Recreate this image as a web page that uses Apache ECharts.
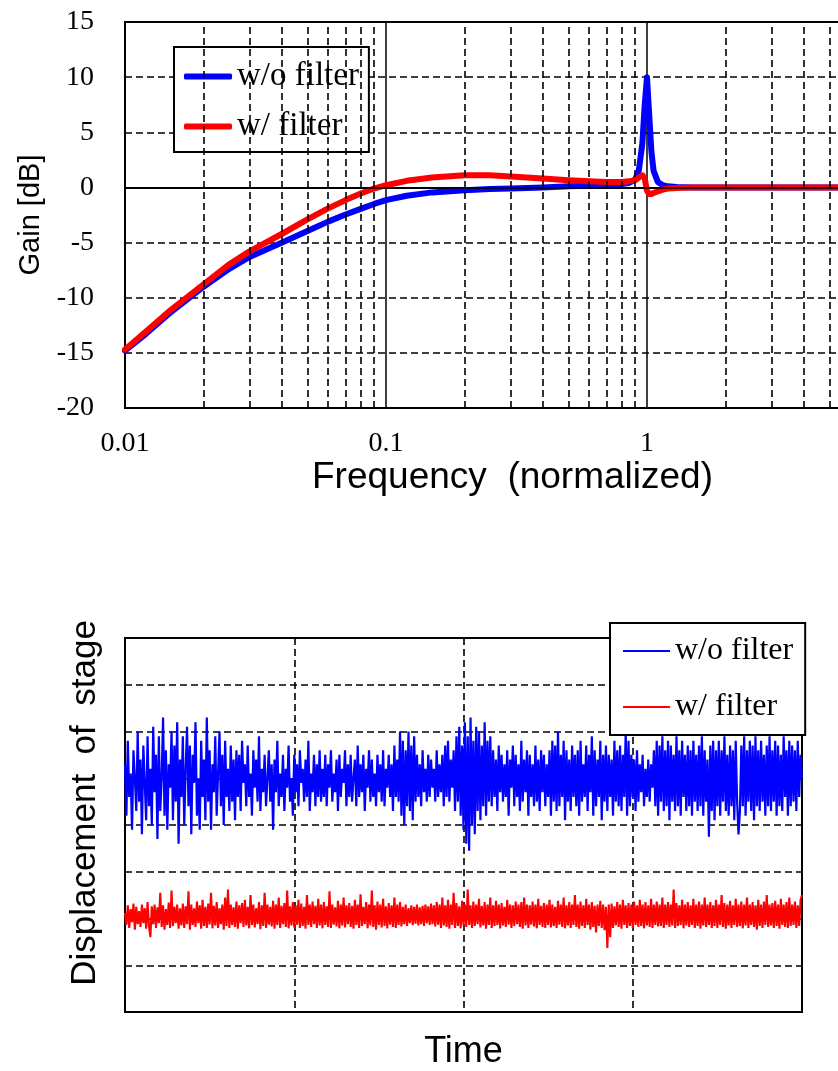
<!DOCTYPE html>
<html>
<head>
<meta charset="utf-8">
<script src="https://cdn.jsdelivr.net/npm/echarts@6/dist/echarts.min.js"></script>
<style>html,body{margin:0;padding:0;background:#fff;}#c{width:838px;height:1071px;}</style>
</head>
<body>
<div id="c"></div>
<script>
// ---------- Top chart: gain vs normalized frequency ----------
const freqs = [0.01, 0.012, 0.015, 0.02, 0.025, 0.03, 0.04, 0.05, 0.06, 0.07, 0.08, 0.09, 0.1, 0.12, 0.15, 0.2, 0.25, 0.3, 0.4, 0.5, 0.6, 0.7, 0.8, 0.85, 0.9, 0.93, 0.96, 0.98, 1.0, 1.02, 1.04, 1.06, 1.1, 1.15, 1.2, 1.3, 1.5, 2, 3, 5, 10];
const gainWithout = [-14.8, -13.3, -11.3, -9.0, -7.4, -6.3, -5.0, -3.95, -3.1, -2.45, -1.95, -1.5, -1.15, -0.75, -0.45, -0.25, -0.15, -0.1, 0.0, 0.1, 0.15, 0.25, 0.3, 0.4, 0.7, 1.5, 4.0, 7.5, 10.0, 6.5, 3.2, 1.5, 0.5, 0.2, 0.1, 0.05, 0, 0, 0, 0, 0];
const gainWith = [-14.7, -13.1, -11.1, -8.8, -7.0, -5.8, -4.2, -2.9, -1.9, -1.15, -0.55, -0.1, 0.2, 0.6, 0.9, 1.1, 1.1, 1.0, 0.8, 0.65, 0.55, 0.5, 0.5, 0.55, 0.65, 0.9, 1.1, 0.8, -0.3, -0.6, -0.6, -0.5, -0.35, -0.2, -0.1, -0.05, 0, 0, 0, 0, 0];
const minorFreqs = [0.02, 0.03, 0.04, 0.05, 0.06, 0.07, 0.08, 0.09, 0.2, 0.3, 0.4, 0.5, 0.6, 0.7, 0.8, 0.9, 2, 3, 4, 5, 6, 7, 8, 9];
const freqLabels = [0.01, 0.1, 1, 10];

// ---------- Bottom chart: displacement vs time (hand-read samples) ----------
const dispWithout = [
5.3,4.2,5.8,4.6,5.1,3.9,5.6,5.0,4.3,6.0,4.5,5.4,3.8,5.7,4.9,4.1,5.9,4.4,5.2,4.0,
6.1,4.7,5.5,3.7,5.9,4.3,5.0,6.3,4.2,5.6,3.9,5.3,4.8,6.0,4.1,5.7,4.5,6.2,3.6,5.4,
4.6,5.9,4.0,5.2,6.1,4.4,5.7,3.8,5.5,4.9,6.2,4.2,5.0,3.9,5.8,4.6,5.4,4.1,6.3,4.5,
5.6,3.9,5.3,4.7,5.9,4.2,5.1,6.0,4.4,5.5,4.0,5.8,4.6,5.2,4.3,5.7,4.5,5.4,4.1,5.6,
4.6,5.5,4.3,5.8,4.9,5.3,4.4,5.7,4.6,5.1,4.2,5.6,4.8,5.4,4.5,5.9,4.3,5.2,4.7,5.5,
4.4,5.0,5.6,4.5,5.3,3.9,5.4,4.7,5.8,4.4,5.1,4.6,5.5,4.3,5.2,4.8,5.7,4.5,5.0,4.2,
5.5,4.7,5.3,4.4,5.6,4.9,5.2,4.5,5.4,4.6,5.8,4.3,5.1,4.7,5.5,4.4,5.3,4.6,5.6,4.5,
5.2,4.6,5.5,4.4,5.3,4.8,5.6,4.5,5.1,4.7,5.4,4.3,5.5,4.6,5.2,4.9,5.6,4.4,5.3,4.6,
5.5,4.5,5.0,5.4,4.4,5.7,4.6,5.3,4.7,5.5,4.3,5.2,4.8,5.6,4.5,5.4,4.6,5.1,4.4,5.5,
4.7,5.3,4.5,5.6,4.4,5.2,4.8,5.5,4.6,5.3,4.3,5.7,4.6,5.4,4.5,6.0,4.2,5.8,4.0,5.6,
4.4,6.0,4.3,5.7,4.1,5.9,4.5,5.5,4.6,5.3,4.4,5.6,4.7,5.2,4.5,5.5,4.6,5.4,4.8,5.2,
4.5,5.6,4.6,5.3,4.7,5.5,4.4,5.7,4.6,5.8,4.5,5.4,4.8,5.6,4.3,5.9,4.5,6.1,4.2,5.7,
3.9,6.2,3.6,5.9,3.45,6.3,4.0,5.8,3.8,6.1,4.3,6.0,4.1,5.7,4.4,6.2,4.2,5.8,4.5,5.9,
4.4,5.6,4.6,5.4,4.3,5.7,4.7,5.5,4.5,5.3,4.6,5.6,4.2,5.4,4.8,5.7,4.4,5.5,4.6,5.3,
4.3,5.8,4.5,5.4,4.7,5.6,4.2,5.5,4.6,5.3,4.4,5.7,4.5,5.4,4.3,5.6,4.7,5.5,4.4,5.3,
4.6,5.6,4.2,5.8,4.5,5.7,4.3,6.0,4.4,5.5,4.6,5.8,4.1,5.6,4.5,5.4,4.3,5.7,4.6,5.5,
4.4,5.6,4.2,5.8,4.5,5.3,4.6,5.7,4.3,5.5,4.7,5.9,4.2,5.6,4.4,5.4,4.6,5.8,4.1,5.5,
4.5,5.7,4.3,5.5,4.6,5.4,4.2,5.8,4.5,5.6,4.4,5.7,4.3,5.5,4.6,6.0,4.2,5.8,4.4,5.5,
4.6,5.4,4.3,5.6,4.5,5.3,4.7,5.5,4.4,5.2,4.6,5.4,4.5,5.3,4.8,5.6,4.4,5.8,4.2,5.7,
4.5,5.9,4.3,5.6,4.4,5.8,4.1,5.7,4.5,5.5,4.3,5.9,4.4,5.6,4.2,5.8,4.6,5.5,4.3,5.7,
4.4,5.6,4.2,5.8,4.5,5.5,4.3,5.7,4.4,5.9,4.2,5.6,4.5,5.4,3.75,5.7,4.3,5.8,4.1,5.6,
4.4,5.8,4.2,5.6,4.5,5.9,4.3,5.5,4.2,5.7,4.4,5.6,4.1,5.8,4.5,3.8,4.3,5.7,4.4,5.9,
4.2,5.6,4.5,5.8,4.3,5.7,4.1,5.9,4.4,5.6,4.3,5.8,4.5,5.5,4.2,5.7,4.4,5.9,4.3,5.6,
4.5,5.8,4.2,5.7,4.4,5.5,4.3,5.9,4.6,5.6,4.2,5.8,4.4,5.7,4.5,5.6,4.3,5.8,4.6,5.5,
5.0];
const dispWith = [
2.12,1.86,2.28,1.8,2.2,1.92,2.32,1.76,2.25,1.88,2.16,1.82,2.3,1.9,2.22,1.78,2.35,1.84,1.6,2.26,
1.88,2.3,1.8,2.24,1.9,2.55,1.82,2.28,1.76,2.2,1.86,2.34,1.8,2.6,1.84,2.25,1.9,2.3,1.78,2.22,
1.85,2.32,1.8,2.26,1.88,2.58,1.76,2.3,1.86,2.22,1.82,2.36,1.9,2.28,1.78,2.4,1.84,2.25,1.8,2.32,
1.87,2.55,1.79,2.27,1.85,2.35,1.8,2.22,1.88,2.3,1.76,2.45,1.84,2.62,1.8,2.3,1.86,2.24,1.82,2.36,
1.78,2.28,1.9,2.33,1.82,2.4,1.85,2.25,1.79,2.5,1.86,2.3,1.81,2.22,1.88,2.35,1.77,2.28,1.84,2.55,
1.8,2.3,1.87,2.25,1.83,2.38,1.78,2.3,1.86,2.45,1.8,2.27,1.88,2.33,1.82,2.6,1.79,2.26,1.85,2.35,
1.81,2.28,1.87,2.4,1.8,2.32,1.84,2.25,1.78,2.5,1.86,2.3,1.82,2.36,1.88,2.27,1.8,2.42,1.85,2.3,
1.79,2.35,1.86,2.26,1.82,2.58,1.8,2.3,1.87,2.24,1.83,2.38,1.79,2.3,1.85,2.45,1.81,2.28,1.88,2.33,
1.82,2.27,1.78,2.4,1.86,2.3,1.8,2.52,1.84,2.25,1.88,2.35,1.79,2.3,1.85,2.6,1.82,2.28,1.76,2.36,
1.86,2.3,1.81,2.42,1.84,2.26,1.79,2.33,1.87,2.28,1.82,2.45,1.8,2.3,1.86,2.35,1.83,2.25,1.88,2.3,
1.84,2.22,1.9,2.28,1.86,2.25,1.89,2.3,1.85,2.24,1.88,2.27,1.84,2.3,1.9,2.26,1.86,2.32,1.88,2.28,
1.83,2.35,1.87,2.3,1.8,2.45,1.85,2.28,1.82,2.4,1.78,2.3,1.86,2.55,1.8,2.33,1.84,2.26,1.79,2.38,
1.85,2.3,1.82,2.62,1.86,2.28,1.8,2.36,1.84,2.3,1.88,2.42,1.81,2.27,1.85,2.35,1.78,2.3,1.86,2.45,
1.8,2.28,1.84,2.38,1.86,2.3,1.79,2.33,1.85,2.25,1.82,2.4,1.87,2.3,1.8,2.28,1.84,2.36,1.88,2.3,
1.82,2.35,1.78,2.45,1.85,2.3,1.8,2.28,1.87,2.36,1.83,2.3,1.79,2.42,1.86,2.27,1.82,2.33,1.8,2.3,
1.86,2.4,1.81,2.3,1.84,2.25,1.8,2.38,1.87,2.3,1.82,2.45,1.79,2.28,1.85,2.35,1.8,2.3,1.86,2.5,
1.82,2.3,1.78,2.36,1.84,2.28,1.8,2.42,1.86,2.3,1.76,2.35,1.82,2.27,1.7,2.3,1.84,2.38,1.8,2.3,
1.75,2.25,1.37,2.3,1.6,2.32,1.8,2.26,1.85,2.35,1.82,2.3,1.78,2.4,1.86,2.28,1.8,2.33,1.84,2.3,
1.8,2.36,1.86,2.28,1.82,2.4,1.84,2.3,1.79,2.35,1.85,2.28,1.82,2.42,1.8,2.3,1.86,2.36,1.83,2.3,
1.84,2.45,1.8,2.3,1.86,2.35,1.82,2.3,1.85,2.62,1.8,2.33,1.84,2.28,1.86,2.4,1.79,2.3,1.85,2.35,
1.82,2.28,1.86,2.42,1.8,2.3,1.84,2.36,1.78,2.3,1.85,2.45,1.82,2.3,1.86,2.35,1.8,2.28,1.84,2.4,
1.8,2.3,1.86,2.5,1.82,2.33,1.78,2.3,1.85,2.38,1.8,2.28,1.86,2.42,1.82,2.3,1.84,2.36,1.79,2.3,
1.85,2.45,1.8,2.3,1.86,2.35,1.82,2.28,1.76,2.4,1.84,2.3,1.8,2.36,1.86,2.5,1.82,2.3,1.85,2.33,
1.8,2.38,1.84,2.3,1.78,2.42,1.86,2.3,1.82,2.35,1.8,2.45,1.84,2.3,1.86,2.36,1.8,2.28,1.84,2.4,
2.5];

const seriesNames = ['w/o filter', 'w/ filter'];

const serif = 'Liberation Serif';
const sans = 'Liberation Sans';
const dash = [7, 4];
const gridDash = {show: true, lineStyle: {color: '#000', width: 1.6, type: dash}};

const chart = echarts.init(document.getElementById('c'), null, {renderer: 'canvas'});
const nT = dispWithout.length - 1;

chart.setOption({
  animation: false,
  backgroundColor: '#fff',
  grid: [
    {left: 125, top: 22, width: 783, height: 386, outerBoundsMode: 'none', containLabel: false, show: true, borderColor: '#000', borderWidth: 2, backgroundColor: 'transparent'},
    {left: 125, top: 638, width: 677, height: 374, outerBoundsMode: 'none', containLabel: false, show: true, borderColor: '#000', borderWidth: 2, backgroundColor: 'transparent'}
  ],
  legend: [
    {
      data: seriesNames, orient: 'vertical', left: 174, top: 47,
      padding: [13, 10, 9, 10], itemGap: 17, itemWidth: 48, itemHeight: 6,
      icon: 'roundRect', itemStyle: {borderWidth: 0},
      borderColor: '#000', borderWidth: 2, backgroundColor: '#fff',
      textStyle: {fontFamily: serif, fontSize: 33, color: '#000'},
      selectedMode: false
    },
    {
      data: seriesNames, orient: 'vertical', left: 610, top: 623,
      padding: [12, 12, 12, 13], itemGap: 24, itemWidth: 47, itemHeight: 2,
      icon: 'rect', itemStyle: {borderWidth: 0},
      borderColor: '#000', borderWidth: 2, backgroundColor: '#fff',
      textStyle: {fontFamily: serif, fontSize: 32, color: '#000'},
      selectedMode: false
    }
  ],
  xAxis: [
    {
      type: 'log', gridIndex: 0, logBase: 10, min: 0.01, max: 10,
      axisLine: {show: true, lineStyle: {color: '#000', width: 2}},
      axisTick: {show: false},
      axisLabel: {fontFamily: serif, fontSize: 28, color: '#000', margin: 22,
        formatter: v => { const f = freqLabels.find(x => Math.abs(x - v) < 1e-9); return f === undefined ? '' : String(f); }},
      splitLine: {show: true, lineStyle: {color: '#000', width: 1.5, type: 'solid'}},
      name: 'Frequency  (normalized)', nameLocation: 'middle', nameGap: 50,
      nameTextStyle: {fontFamily: sans, fontSize: 37, color: '#000', padding: [0, 8, 0, 0]}
    },
    {
      type: 'value', gridIndex: 1, min: 0, max: nT, interval: nT / 4,
      axisLine: {show: true, lineStyle: {color: '#000', width: 2}},
      axisTick: {show: false}, axisLabel: {show: false},
      splitLine: gridDash,
      name: 'Time', nameLocation: 'middle', nameGap: 22,
      nameTextStyle: {fontFamily: sans, fontSize: 36, color: '#000'}
    }
  ],
  yAxis: [
    {
      type: 'value', gridIndex: 0, min: -20, max: 15, interval: 5,
      axisLine: {show: true, lineStyle: {color: '#000', width: 2}},
      axisTick: {show: false},
      axisLabel: {fontFamily: serif, fontSize: 28, color: '#000', margin: 31},
      splitLine: gridDash,
      name: 'Gain [dB]', nameLocation: 'middle', nameGap: 78, nameRotate: 90,
      nameTextStyle: {fontFamily: sans, fontSize: 29, color: '#000'}
    },
    {
      type: 'value', gridIndex: 1, min: 0, max: 8, interval: 1,
      axisLine: {show: true, lineStyle: {color: '#000', width: 2}},
      axisTick: {show: false}, axisLabel: {show: false},
      splitLine: gridDash,
      name: 'Displacement  of  stage', nameLocation: 'middle', nameGap: 22, nameRotate: 90,
      nameTextStyle: {fontFamily: sans, fontSize: 35, color: '#000', padding: [0, 0, 0, 44]}
    }
  ],
  series: [
    {
      name: 'gridlines', type: 'line', xAxisIndex: 0, yAxisIndex: 0, data: [], z: 1, silent: true,
      markLine: {
        silent: true, symbol: 'none', animation: false, label: {show: false},
        lineStyle: {color: '#000', width: 1.6, type: dash},
        data: minorFreqs.map(f => ({xAxis: f})).concat([{yAxis: 0, lineStyle: {type: 'solid', width: 1.5, color: '#000'}}])
      }
    },
    {
      name: seriesNames[0], type: 'line', xAxisIndex: 0, yAxisIndex: 0, z: 3,
      data: freqs.map((f, i) => [f, gainWithout[i]]),
      showSymbol: false, symbol: 'none', lineStyle: {color: '#0000ff', width: 6, cap: 'round', join: 'round'},
      itemStyle: {color: '#0000ff'}
    },
    {
      name: seriesNames[1], type: 'line', xAxisIndex: 0, yAxisIndex: 0, z: 4,
      data: freqs.map((f, i) => [f, gainWith[i]]),
      showSymbol: false, symbol: 'none', lineStyle: {color: '#ff0000', width: 6, cap: 'round', join: 'round'},
      itemStyle: {color: '#ff0000'}
    },
    {
      name: seriesNames[0], type: 'line', xAxisIndex: 1, yAxisIndex: 1, z: 3,
      data: dispWithout.map((v, i) => [i, v]), sampling: 'none',
      showSymbol: false, symbol: 'none', lineStyle: {color: '#0000ff', width: 2.2},
      itemStyle: {color: '#0000ff'}
    },
    {
      name: seriesNames[1], type: 'line', xAxisIndex: 1, yAxisIndex: 1, z: 3,
      data: dispWith.map((v, i) => [i, v]), sampling: 'none',
      showSymbol: false, symbol: 'none', lineStyle: {color: '#ff0000', width: 2.1},
      itemStyle: {color: '#ff0000'}
    }
  ]
});
</script>
</body>
</html>
